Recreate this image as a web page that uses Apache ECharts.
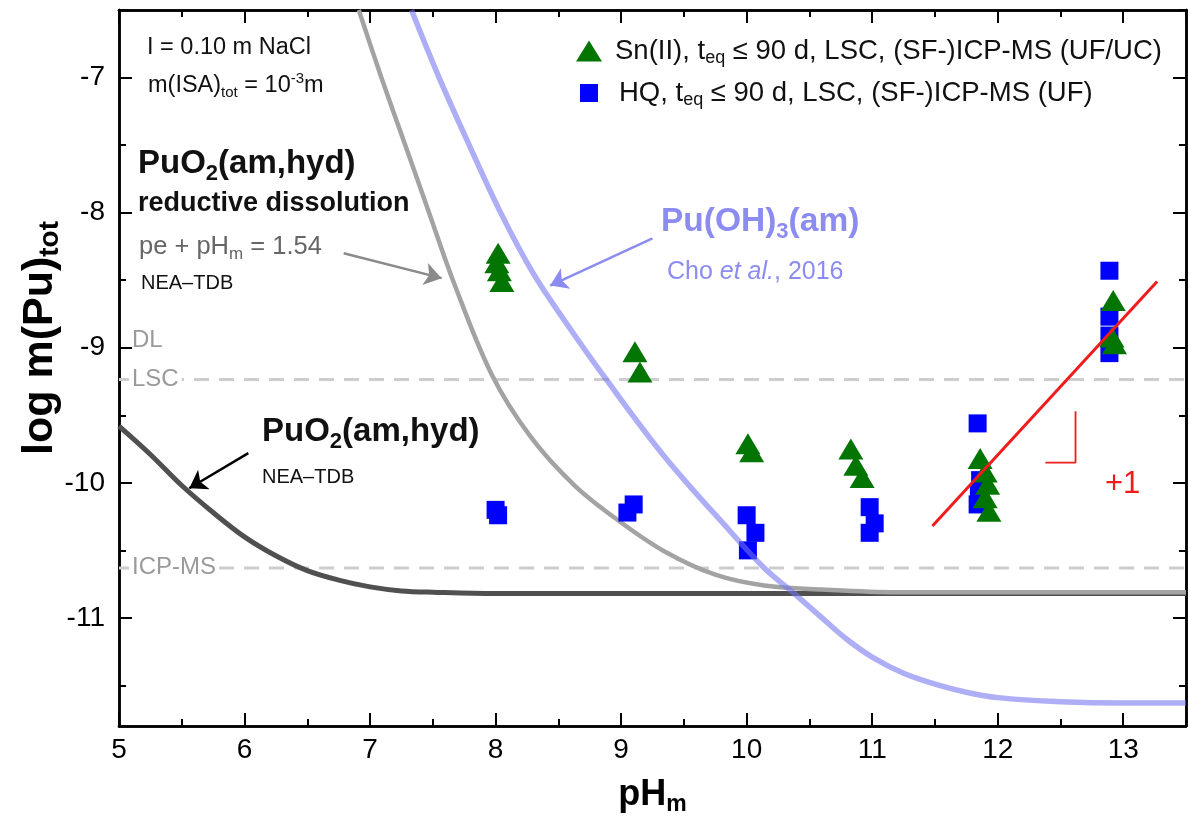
<!DOCTYPE html>
<html><head><meta charset="utf-8">
<script src="https://cdn.jsdelivr.net/npm/echarts@6/dist/echarts.min.js"></script>
<style>html,body{margin:0;padding:0;background:#fff}#c{width:1188px;height:821px}</style>
</head><body><div id="c"></div><script>
const FONT = '"Liberation Sans", Arial, Helvetica, sans-serif';

// ---- axes ----
const xRange = [5, 13.5];
const yRange = [-11.8, -6.5];
const xMajorTicks = [5, 6, 7, 8, 9, 10, 11, 12, 13];
const xMinorTicks = [5.5, 6.5, 7.5, 8.5, 9.5, 10.5, 11.5, 12.5, 13.5];
const yMajorTicks = [-11, -10, -9, -8, -7];
const yMinorTicks = [-11.5, -10.5, -9.5, -8.5, -7.5, -6.5];

// ---- data: [pHm, log m(Pu)tot] ----
const snTriangles = [
  [8.02, -8.30], [8.01, -8.37], [8.03, -8.43], [8.05, -8.51],
  [9.11, -9.03], [9.15, -9.18],
  [10.01, -9.71], [10.04, -9.77],
  [10.83, -9.75], [10.87, -9.87], [10.92, -9.96],
  [11.86, -9.82], [11.90, -9.92], [11.92, -10.01], [11.90, -10.11], [11.93, -10.21],
  [12.92, -8.65], [12.91, -8.92], [12.93, -8.97]
];
const hqSquares = [
  [8.00, -10.20], [8.02, -10.24],
  [9.05, -10.22], [9.10, -10.16],
  [10.00, -10.24], [10.07, -10.37], [10.01, -10.50],
  [10.98, -10.18], [11.02, -10.30], [10.98, -10.37],
  [11.84, -9.56], [11.86, -9.98], [11.85, -10.09], [11.84, -10.16],
  [12.89, -8.43], [12.89, -8.77], [12.89, -8.91], [12.89, -9.04]
];
const puo2Nea = [
  [5.0, -9.58], [5.25, -9.79], [5.5, -10.02], [5.75, -10.22], [6.0, -10.40],
  [6.25, -10.54], [6.5, -10.65], [6.75, -10.72], [7.0, -10.77], [7.25, -10.80], [7.5, -10.81],
  [8.0, -10.82], [9.0, -10.82], [10.0, -10.82], [11.0, -10.82], [12.0, -10.82], [13.5, -10.82]
];
const puo2Reductive = [
  [6.91, -6.5], [7.09, -7.0], [7.28, -7.5], [7.47, -8.0], [7.66, -8.5], [7.97, -9.2],
  [8.28, -9.66], [8.63, -10.02], [8.98, -10.28], [9.35, -10.51], [9.75, -10.68],
  [10.14, -10.76], [10.6, -10.79], [11.2, -10.81], [12.0, -10.81], [13.5, -10.81]
];
const puoh3Cho = [
  [7.33, -6.5], [7.55, -7.0], [7.79, -7.5], [8.04, -8.0], [8.3, -8.45], [8.55, -8.80],
  [8.87, -9.22], [9.35, -9.81], [9.87, -10.36], [10.14, -10.63], [10.38, -10.82],
  [10.6, -11.0], [10.8, -11.16], [11.0, -11.29], [11.25, -11.41], [11.5, -11.49],
  [11.75, -11.55], [12.0, -11.59], [12.5, -11.62], [13.0, -11.63], [13.5, -11.63]
];
const slopeFit = [[11.48, -10.32], [13.27, -8.51]];
const slopeMark = [[12.38, -9.85], [12.62, -9.85], [12.62, -9.47]];
const lscLimit = -9.235;
const icpLimit = -10.63;
const grayArrow = [[6.79, -8.30], [7.57, -8.485]];
const blueArrow = [[9.25, -8.19], [8.435, -8.54]];
const blackArrow = [[6.03, -9.78], [5.56, -10.04]];
const legendLabels = {
  Sn: '{g| }Sn(II), t{sub|eq} ≤ 90 d, LSC, (SF-)ICP-MS (UF/UC)',
  HQ: '{g| }HQ, t{sub|eq} ≤ 90 d, LSC, (SF-)ICP-MS (UF)'
};

const chart = echarts.init(document.getElementById('c'), null, {renderer: 'canvas'});

function xAxis(pos, ticks, len, withLabels) {
  return {
    type: 'value', min: xRange[0], max: xRange[1], position: pos,
    axisLine: {show: true, onZero: false, lineStyle: {color: '#000', width: 2.5}},
    axisTick: {show: true, inside: true, length: len, customValues: ticks, lineStyle: {color: '#000', width: 2}},
    axisLabel: {show: withLabels, customValues: xMajorTicks, fontSize: 28, color: '#000', fontFamily: FONT, margin: 10},
    splitLine: {show: false}, minorTick: {show: false}
  };
}
function yAxis(pos, ticks, len, withLabels) {
  return {
    type: 'value', min: yRange[0], max: yRange[1], position: pos,
    axisLine: {show: true, onZero: false, lineStyle: {color: '#000', width: 2.5}},
    axisTick: {show: true, inside: true, length: len, customValues: ticks, lineStyle: {color: '#000', width: 2}},
    axisLabel: {show: withLabels, customValues: yMajorTicks, fontSize: 28, color: '#000', fontFamily: FONT, margin: 14},
    splitLine: {show: false}, minorTick: {show: false}
  };
}

const xMain = xAxis('bottom', xMajorTicks, 13, true);
xMain.name = '{a|pH}{b|m}';
xMain.nameLocation = 'middle';
xMain.nameGap = 48;
xMain.nameTextStyle = {fontSize: 36, fontWeight: 'bold', fontFamily: FONT, color: '#000',
  rich: {a: {fontSize: 36, fontWeight: 'bold', fontFamily: FONT, color: '#000'},
         b: {fontSize: 23, fontWeight: 'bold', fontFamily: FONT, color: '#000', padding: [19, 0, 0, 0]}}};
const yMain = yAxis('left', yMajorTicks, 13, true);

function txt(x, y, text, opts, extra) {
  const st = Object.assign({
    text: text, x: 0, y: 0, fontFamily: FONT, fontSize: 24, fill: '#111',
    align: 'left', verticalAlign: 'middle'
  }, opts || {});
  return Object.assign({type: 'text', x: x, y: y, z: 100, silent: true, style: st}, extra || {});
}
const subRich = (fs, base, weight) => ({
  sub: {fontSize: fs, fontWeight: weight || 'normal', fontFamily: FONT, padding: [Math.round(fs * 0.9), 0, 0, 0]},
  sup: {fontSize: fs, fontWeight: weight || 'normal', fontFamily: FONT, padding: [0, 0, Math.round(fs * 0.9), 0]},
  i: {fontStyle: 'italic', fontSize: base, fontFamily: FONT}
});

const option = {
  animation: false,
  backgroundColor: '#fff',
  grid: {left: 119, right: 2, top: 10, bottom: 95, containLabel: false},
  xAxis: [xMain, xAxis('bottom', xMinorTicks, 7, false), xAxis('top', xMajorTicks, 13, false), xAxis('top', xMinorTicks, 7, false)],
  yAxis: [yMain, yAxis('left', yMinorTicks, 7, false), yAxis('right', yMajorTicks, 13, false), yAxis('right', yMinorTicks, 7, false)],
  legend: [
    {data: [{name: 'Sn', icon: 'triangle'}], left: 571, top: 32, itemWidth: 26, itemHeight: 21,
     formatter: (n) => legendLabels[n], selectedMode: false,
     textStyle: {fontSize: 27.5, fontFamily: FONT, color: '#111',
       rich: {g: {width: 8}, sub: {fontSize: 18, fontFamily: FONT, padding: [15, 0, 0, 0]}}}},
    {data: [{name: 'HQ', icon: 'rect'}], left: 575, top: 74, itemWidth: 18, itemHeight: 18,
     formatter: (n) => legendLabels[n], selectedMode: false,
     textStyle: {fontSize: 27.5, fontFamily: FONT, color: '#111',
       rich: {g: {width: 16}, sub: {fontSize: 18, fontFamily: FONT, padding: [15, 0, 0, 0]}}}}
  ],
  series: [
    {type: 'line', name: 'LSC', data: [[xRange[0], lscLimit], [xRange[1], lscLimit]], symbol: 'none', z: 1,
     lineStyle: {color: '#cdcdcd', width: 3, type: [15, 10]}, silent: true},
    {type: 'line', name: 'ICP', data: [[xRange[0], icpLimit], [xRange[1], icpLimit]], symbol: 'none', z: 1,
     lineStyle: {color: '#cdcdcd', width: 3, type: [15, 10]}, silent: true},
    {type: 'line', name: 'nea', data: puo2Nea, symbol: 'none', smooth: 0.35, z: 2,
     lineStyle: {color: '#505050', width: 5}, silent: true},
    {type: 'line', name: 'red', data: puo2Reductive, symbol: 'none', smooth: 0.35, z: 2,
     lineStyle: {color: '#a3a3a3', width: 4.5}, silent: true},
    {type: 'scatter', name: 'HQ', data: hqSquares, symbol: 'rect', symbolSize: 18, z: 3,
     itemStyle: {color: '#0000ff', opacity: 1}},
    {type: 'scatter', name: 'Sn', data: snTriangles, symbol: 'triangle', symbolSize: [25, 21], z: 4,
     itemStyle: {color: '#037503', opacity: 1}},
    {type: 'line', name: 'cho', data: puoh3Cho, symbol: 'none', smooth: 0.35, z: 5,
     lineStyle: {color: 'rgba(115,115,240,0.58)', width: 5.5}, silent: true},
    {type: 'line', name: 'fit', data: slopeFit, symbol: 'none', z: 6,
     lineStyle: {color: '#ee1c1c', width: 3}, silent: true},
    {type: 'line', name: 'slope', data: slopeMark, symbol: 'none', z: 6,
     lineStyle: {color: '#ee1c1c', width: 1.8}, silent: true},
    {type: 'line', name: 'arrows', data: [], symbol: 'none', z: 6, silent: true,
     markLine: {silent: true, symbol: ['none', 'arrow'], symbolSize: 17, label: {show: false},
       animation: false,
       data: [
         [{coord: grayArrow[0], lineStyle: {color: '#8a8a8a', width: 2.5, type: 'solid'}, itemStyle: {color: '#8a8a8a'}}, {coord: grayArrow[1]}],
         [{coord: blueArrow[0], lineStyle: {color: '#8c8cf0', width: 2.5, type: 'solid'}, itemStyle: {color: '#8c8cf0'}}, {coord: blueArrow[1]}],
         [{coord: blackArrow[0], lineStyle: {color: '#000', width: 2.5, type: 'solid'}, itemStyle: {color: '#000'}}, {coord: blackArrow[1]}]
       ]}}
  ],
  graphic: [
    txt(40, 338, '{a|log m(Pu)}{b|tot}', {fontSize: 43, fontWeight: 'bold', fill: '#000', align: 'center',
      rich: {a: {fontSize: 43, fontWeight: 'bold', fontFamily: FONT}, b: {fontSize: 28, fontWeight: 'bold', fontFamily: FONT, padding: [21, 0, 0, 0]}}},
      {rotation: Math.PI / 2}),
    txt(147, 48, 'I = 0.10 m NaCl', {fontSize: 23.5}),
    txt(148, 86, 'm(ISA){sub|tot} = 10{sup|-3}m', {fontSize: 23.5, rich: subRich(15, 23.5)}),
    txt(138, 164, 'PuO{sub|2}(am,hyd)', {fontSize: 33, fontWeight: 'bold', rich: subRich(22, 33, 'bold')}),
    txt(138, 204, 'reductive dissolution', {fontSize: 27, fontWeight: 'bold'}),
    txt(139, 247, 'pe + pH{sub|m} = 1.54', {fontSize: 25.5, fill: '#666', rich: subRich(17, 25.5)}),
    txt(141, 283, 'NEA–TDB', {fontSize: 20}),
    txt(661, 222, 'Pu(OH){sub|3}(am)', {fontSize: 33.5, fontWeight: 'bold', fill: '#8c8cf0', rich: subRich(22, 33.5, 'bold')}),
    txt(667, 272, 'Cho {i|et al.}, 2016', {fontSize: 25, fill: '#8c8cf0', rich: subRich(17, 25)}),
    txt(262, 432, 'PuO{sub|2}(am,hyd)', {fontSize: 33, fontWeight: 'bold', rich: subRich(22, 33, 'bold')}),
    txt(262, 477, 'NEA–TDB', {fontSize: 20}),
    txt(1105, 484, '+1', {fontSize: 31, fill: '#ee1c1c'}),
    txt(132, 340, 'DL', {fontSize: 24, fill: '#9a9a9a'}),
    txt(129, 379, 'LSC', {fontSize: 24, fill: '#9a9a9a', backgroundColor: '#fff', padding: [0, 3, 0, 3]}),
    txt(129, 567, 'ICP-MS', {fontSize: 24, fill: '#9a9a9a', backgroundColor: '#fff', padding: [0, 3, 0, 3]})
  ]
};
chart.setOption(option);
</script></body></html>
